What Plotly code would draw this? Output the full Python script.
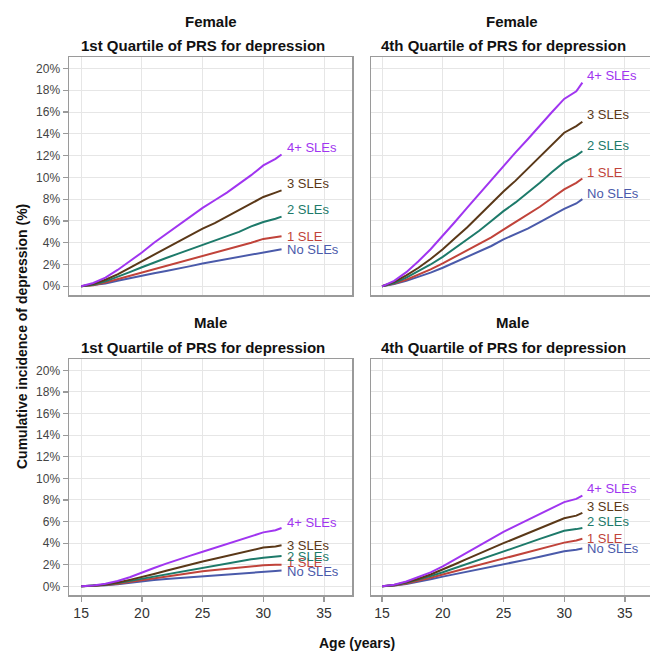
import plotly.graph_objects as go

ages = [15, 16, 17, 18, 19, 20, 21, 22, 23, 24, 25, 26, 27, 28, 29, 30, 31, 31.5]

series_names = ["No SLEs", "1 SLE", "2 SLEs", "3 SLEs", "4+ SLEs"]
series_colors = ["#4a5aaa", "#c0433a", "#1d7a6a", "#5a3818", "#a035f0"]

female_q1 = {
    "No SLEs": [0, 0.1, 0.25, 0.5, 0.75, 0.95, 1.2, 1.4, 1.6, 1.85, 2.1, 2.3, 2.5, 2.75, 2.95, 3.15, 3.3, 3.4],
    "1 SLE":   [0, 0.1, 0.35, 0.65, 0.95, 1.25, 1.55, 1.85, 2.15, 2.45, 2.8, 3.1, 3.4, 3.7, 4.0, 4.35, 4.5, 4.6],
    "2 SLEs":  [0, 0.15, 0.45, 0.85, 1.3, 1.75, 2.2, 2.6, 3.0, 3.4, 3.8, 4.2, 4.6, 5.0, 5.5, 5.9, 6.2, 6.4],
    "3 SLEs":  [0, 0.2, 0.6, 1.1, 1.7, 2.3, 2.9, 3.5, 4.1, 4.7, 5.3, 5.8, 6.4, 7.0, 7.6, 8.2, 8.6, 8.8],
    "4+ SLEs": [0, 0.3, 0.8, 1.5, 2.3, 3.1, 4.0, 4.8, 5.6, 6.4, 7.2, 7.9, 8.6, 9.4, 10.2, 11.1, 11.7, 12.1],
}
female_q4 = {
    "No SLEs": [0, 0.2, 0.5, 0.85, 1.25, 1.7, 2.2, 2.7, 3.2, 3.7, 4.3, 4.8, 5.3, 5.9, 6.5, 7.1, 7.6, 8.0],
    "1 SLE":   [0, 0.25, 0.6, 1.05, 1.55, 2.1, 2.7, 3.3, 3.9, 4.5, 5.2, 5.9, 6.6, 7.3, 8.1, 8.9, 9.5, 9.9],
    "2 SLEs":  [0, 0.3, 0.8, 1.4, 2.0, 2.7, 3.5, 4.3, 5.1, 6.0, 6.9, 7.7, 8.6, 9.5, 10.5, 11.4, 12.0, 12.4],
    "3 SLEs":  [0, 0.4, 1.0, 1.7, 2.5, 3.4, 4.4, 5.4, 6.5, 7.6, 8.7, 9.7, 10.8, 11.9, 13.0, 14.1, 14.7, 15.1],
    "4+ SLEs": [0, 0.5, 1.3, 2.3, 3.4, 4.6, 5.9, 7.2, 8.5, 9.8, 11.1, 12.3, 13.5, 14.8, 16.0, 17.2, 17.9, 18.7],
}
male_q1 = {
    "No SLEs": [0, 0.03, 0.1, 0.2, 0.33, 0.48, 0.58, 0.67, 0.76, 0.86, 0.95, 1.04, 1.12, 1.2, 1.3, 1.38, 1.42, 1.46],
    "1 SLE":   [0, 0.04, 0.12, 0.25, 0.42, 0.6, 0.78, 0.93, 1.08, 1.24, 1.4, 1.52, 1.64, 1.76, 1.88, 1.95, 2.0, 2.0],
    "2 SLEs":  [0, 0.05, 0.15, 0.3, 0.5, 0.72, 0.95, 1.15, 1.35, 1.55, 1.75, 1.95, 2.1, 2.3, 2.5, 2.65, 2.75, 2.8],
    "3 SLEs":  [0, 0.05, 0.18, 0.35, 0.6, 0.85, 1.15, 1.45, 1.75, 2.05, 2.3, 2.55, 2.8, 3.05, 3.35, 3.6, 3.7, 3.8],
    "4+ SLEs": [0, 0.08, 0.25, 0.5, 0.85, 1.3, 1.7, 2.1, 2.5, 2.85, 3.2, 3.55, 3.9, 4.25, 4.6, 5.0, 5.2, 5.4],
}
male_q4 = {
    "No SLEs": [0, 0.07, 0.22, 0.42, 0.65, 0.9, 1.12, 1.34, 1.56, 1.78, 2.0, 2.25, 2.5, 2.75, 3.0, 3.25, 3.4, 3.5],
    "1 SLE":   [0, 0.08, 0.27, 0.52, 0.8, 1.1, 1.4, 1.7, 2.0, 2.3, 2.6, 2.9, 3.2, 3.5, 3.8, 4.05, 4.25, 4.4],
    "2 SLEs":  [0, 0.1, 0.32, 0.6, 0.95, 1.3, 1.68, 2.05, 2.43, 2.8, 3.2, 3.6, 4.0, 4.4, 4.8, 5.15, 5.3, 5.4],
    "3 SLEs":  [0, 0.12, 0.38, 0.7, 1.1, 1.55, 2.05, 2.55, 3.05, 3.55, 4.0, 4.45, 4.9, 5.35, 5.85, 6.3, 6.55, 6.8],
    "4+ SLEs": [0, 0.15, 0.45, 0.85, 1.3, 1.85, 2.5, 3.15, 3.8, 4.45, 5.05, 5.6, 6.15, 6.7, 7.3, 7.8, 8.1, 8.4],
}

panel_titles = [
    ("Female", "1st Quartile of PRS for depression"),
    ("Female", "4th Quartile of PRS for depression"),
    ("Male", "1st Quartile of PRS for depression"),
    ("Male", "4th Quartile of PRS for depression"),
]
panels_data = [female_q1, female_q4, male_q1, male_q4]

x_ticks = [15, 20, 25, 30, 35]
y_ticks = [0, 2, 4, 6, 8, 10, 12, 14, 16, 18, 20]
y_tick_labels = ["0%", "2%", "4%", "6%", "8%", "10%", "12%", "14%", "16%", "18%", "20%"]

# label vertical nudges (pixels) per panel, per series
label_shift = [
    {"No SLEs": 0, "1 SLE": 0, "2 SLEs": 7, "3 SLEs": 7, "4+ SLEs": 7},
    {"No SLEs": 6, "1 SLE": 6, "2 SLEs": 6, "3 SLEs": 7, "4+ SLEs": 7},
    {"No SLEs": -1, "1 SLE": 2, "2 SLEs": 0, "3 SLEs": 0, "4+ SLEs": 6},
    {"No SLEs": 0, "1 SLE": 0, "2 SLEs": 7, "3 SLEs": 6, "4+ SLEs": 7},
]

W, H = 650, 653
px = lambda v: v / W
py = lambda v: 1 - v / H

x_domains = [(px(69), px(352)), (px(371), 1.0)]
y_domains = [(py(295), py(57)), (py(595), py(359))]
x_ranges = [[14.0, 37.3], [14.09, 37.07]]
y_range = [-0.8, 21.05]

FONT = "Liberation Sans, Arial, sans-serif"
border = "#9a9a9a"
grid = "#e6e6e6"

fig = go.Figure()
annotations = []

for i, data in enumerate(panels_data):
    row, col = divmod(i, 2)
    xa = "x" if i == 0 else f"x{i+1}"
    ya = "y" if i == 0 else f"y{i+1}"
    for name, color in zip(series_names, series_colors):
        vals = data[name]
        fig.add_trace(go.Scatter(
            x=ages, y=vals, mode="lines", line=dict(color=color, width=2),
            xaxis=xa, yaxis=ya, showlegend=False, hoverinfo="skip"))
        annotations.append(dict(
            x=ages[-1], y=vals[-1], xref=xa, yref=ya, text=name,
            showarrow=False, xanchor="left", yanchor="middle",
            xshift=3, yshift=label_shift[i][name],
            font=dict(family=FONT, size=13, color=color)))

    xd = x_domains[col]
    yd = y_domains[row]
    xkey = "xaxis" if i == 0 else f"xaxis{i+1}"
    ykey = "yaxis" if i == 0 else f"yaxis{i+1}"
    bottom = row == 1
    left = col == 0
    fig.update_layout(**{
        xkey: dict(domain=list(xd), range=x_ranges[col], anchor=ya,
                   tickmode="array", tickvals=x_ticks, showticklabels=bottom,
                   ticks="outside" if bottom else "", ticklen=5, tickwidth=1.3,
                   tickcolor=border,
                   tickfont=dict(family=FONT, size=14, color="#333"),
                   showgrid=True, gridcolor=grid, gridwidth=1,
                   zeroline=False, showline=True, linecolor=border, linewidth=1.5,
                   mirror=True, fixedrange=True),
        ykey: dict(domain=list(yd), range=y_range, anchor=xa,
                   tickmode="array", tickvals=y_ticks, ticktext=y_tick_labels,
                   showticklabels=left,
                   ticks="outside" if left else "", ticklen=5, tickwidth=1.3,
                   tickcolor=border,
                   tickfont=dict(family=FONT, size=12, color="#444"),
                   showgrid=True, gridcolor=grid, gridwidth=1,
                   zeroline=False, showline=True, linecolor=border, linewidth=1.5,
                   mirror=left, fixedrange=True),
    })
    cx = (xd[0] + (xd[1] if col == 0 else px(653))) / 2
    t1, t2 = panel_titles[i]
    top_px = 57 if row == 0 else 359
    annotations.append(dict(x=cx, y=py(top_px - 36), xref="paper", yref="paper",
                            text=f"<b>{t1}</b>", showarrow=False,
                            xanchor="center", yanchor="middle",
                            font=dict(family=FONT, size=15, color="#111")))
    annotations.append(dict(x=cx - px(8), y=py(top_px - 12), xref="paper", yref="paper",
                            text=f"<b>{t2}</b>", showarrow=False,
                            xanchor="center", yanchor="middle",
                            font=dict(family=FONT, size=15, color="#111")))

annotations.append(dict(x=px(357), y=py(643), xref="paper", yref="paper",
                        text="<b>Age (years)</b>", showarrow=False,
                        xanchor="center", yanchor="middle",
                        font=dict(family=FONT, size=14, color="#111")))
annotations.append(dict(x=px(22), y=py(337), xref="paper", yref="paper",
                        text="<b>Cumulative incidence of depression (%)</b>",
                        showarrow=False, textangle=-90,
                        xanchor="center", yanchor="middle",
                        font=dict(family=FONT, size=14, color="#111")))

fig.update_layout(width=W, height=H, margin=dict(l=0, r=0, t=0, b=0),
                  paper_bgcolor="white", plot_bgcolor="white",
                  annotations=annotations)

fig.write_html("out.html",
               config={"displayModeBar": False, "staticPlot": True},
               post_script="document.body.style.margin='0';document.body.style.overflow='hidden';")
